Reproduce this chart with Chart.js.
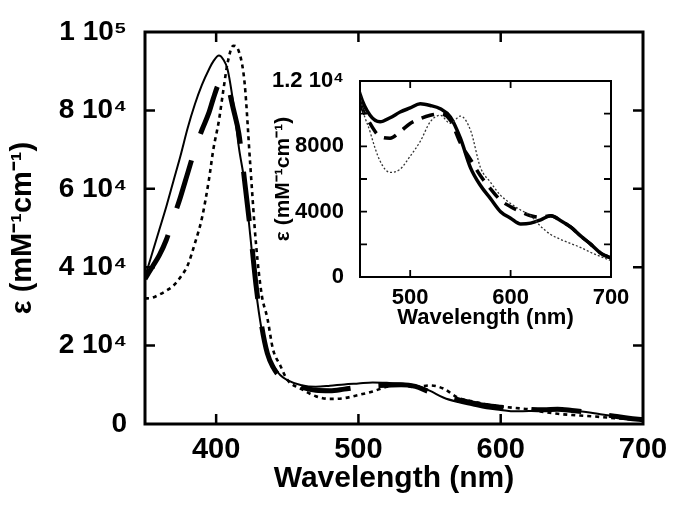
<!DOCTYPE html>
<html>
<head>
<meta charset="utf-8">
<script src="https://cdn.jsdelivr.net/npm/chart.js"></script>
<style>
  body { margin: 0; background: #fff; }
  #wrap { position: relative; width: 675px; height: 505px; }
  #mainChart { position: absolute; left: 0; top: 0; }
  #insetChart { position: absolute; left: 270px; top: 55px; }
</style>
</head>
<body>
<div id="wrap">
  <canvas id="mainChart" width="675" height="505"></canvas>
  <canvas id="insetChart" width="362" height="285"></canvas>
</div>
<script>
// data (nm, M^-1 cm^-1)
var wavelength = [350, 355, 360, 365, 370, 375, 380, 385, 390, 395, 398, 402, 405, 408, 412, 416, 420, 424, 428, 432, 436, 440, 445, 450,
    460, 470, 480, 490, 500, 510, 520, 530, 540, 550, 560, 570, 580, 590, 600, 610, 620, 630, 640, 650, 660, 670, 680, 690, 700];

var epsSolid = [37500, 43500, 49500, 55500, 62000, 68500, 75500, 81500, 86500, 90500, 92500, 94000, 93000, 90500, 82000, 70500, 61500, 48000, 34000, 24000, 17500, 15000, 12500, 11200,
    9900, 9500, 9750, 10100, 10350, 10600, 10500, 10300, 9800, 8500, 6700, 5600, 4800, 4000, 3600, 3250, 3300, 3500, 3750, 3450, 3050, 2500, 2000, 1450, 1150];

var epsDashed = [37000, 40000, 43000, 47000, 52500, 58000, 64000, 70000, 75000, 79500, 83000, 87000, 88000, 86500, 80500, 74000, 62000, 49500, 35500, 25000, 18000, 14500, 12000, 10700,
    9400, 8600, 8500, 8900, 9400, 9700, 9900, 10000, 9600, 8200, 7200, 6200, 5400, 4700, 4300, 4000, 3750, 3650, 3750, 3450, 3050, 2500, 2000, 1450, 1150];

var epsDotted = [32000, 32200, 33000, 34000, 35300, 37500, 40500, 46000, 52500, 62500, 70000, 77500, 85000, 92000, 96500, 95000, 87000, 66000, 46000, 33000, 27000, 19000, 15000, 11300,
    8900, 7100, 6400, 6600, 7400, 8300, 9500, 9900, 9400, 9850, 9000, 6700, 5800, 5000, 4500, 4100, 3750, 3100, 2600, 2300, 2050, 1800, 1500, 1250, 1000];

// tick labels
var mainXTicks = [400, 500, 600, 700];
var mainYTicks = [0, 20000, 40000, 60000, 80000, 100000];
var insetXTicks = [500, 600, 700];
var insetYTicks = [0, 4000, 8000, 12000];

function points(ys) {
    return wavelength.map(function (w, i) { return { x: w, y: ys[i] }; });
}

var FONT = "'Liberation Sans', Arial, sans-serif";

// frame on four sides with inward ticks
var frameTicks = {
    id: 'frameTicks',
    afterDatasetsDraw: function (chart, args, opts) {
        var ctx = chart.ctx, a = chart.chartArea;
        var x = chart.scales.x, y = chart.scales.y;
        ctx.save();
        ctx.strokeStyle = '#000';
        ctx.lineWidth = opts.tickWidth;
        ctx.beginPath();
        opts.xMarks.forEach(function (v) {
            var px = x.getPixelForValue(v);
            ctx.moveTo(px, a.bottom); ctx.lineTo(px, a.bottom - opts.len);
            ctx.moveTo(px, a.top); ctx.lineTo(px, a.top + opts.len);
        });
        opts.yMarks.forEach(function (v) {
            var py = y.getPixelForValue(v);
            ctx.moveTo(a.left, py); ctx.lineTo(a.left + opts.len, py);
            ctx.moveTo(a.right, py); ctx.lineTo(a.right - opts.len, py);
        });
        ctx.stroke();
        ctx.lineWidth = opts.frameWidth;
        ctx.strokeRect(a.left, a.top, a.right - a.left, a.bottom - a.top);
        ctx.restore();
    }
};

function mainLabelY(v) {
    if (v === 0) return '0';
    if (v === 100000) return '1 10\u2075';
    return (v / 10000) + ' 10\u2074';
}

function insetLabelY(v) {
    if (v === 12000) return '1.2 10\u2074';
    return String(v);
}

// Main chart
var mainChart = new Chart(document.getElementById('mainChart'), {
    type: 'line',
    data: {
        datasets: [{
            data: points(epsDotted),
            borderColor: '#000',
            borderWidth: 2.6,
            borderDash: [4, 4],
            pointRadius: 0,
            cubicInterpolationMode: 'monotone'
        }, {
            data: points(epsDashed),
            borderColor: '#000',
            borderWidth: 5,
            borderDash: [50, 28],
            pointRadius: 0,
            cubicInterpolationMode: 'monotone'
        }, {
            data: points(epsSolid),
            borderColor: '#000',
            borderWidth: 2,
            pointRadius: 0,
            cubicInterpolationMode: 'monotone'
        }]
    },
    options: {
        responsive: false,
        animation: false,
        layout: { padding: { top: 32, right: 32, left: 0, bottom: 0 } },
        plugins: {
            legend: { display: false },
            tooltip: { enabled: false },
            frameTicks: { xMarks: [400, 500, 600], yMarks: [20000, 40000, 60000, 80000], len: 10, tickWidth: 2.5, frameWidth: 3 }
        },
        scales: {
            x: {
                type: 'linear',
                min: 350,
                max: 700,
                afterBuildTicks: function (s) { s.ticks = mainXTicks.map(function (v) { return { value: v }; }); },
                afterFit: function (s) { s.height = 81; },
                grid: { display: false },
                border: { display: false },
                ticks: { color: '#000', padding: 1, maxRotation: 0, font: { family: FONT, size: 29, weight: 'bold' } },
                title: { display: true, text: 'Wavelength (nm)', color: '#000', padding: { top: 0, bottom: 8 }, font: { family: FONT, size: 30, weight: 'bold' } }
            },
            y: {
                type: 'linear',
                min: 0,
                max: 100000,
                afterBuildTicks: function (s) { s.ticks = mainYTicks.map(function (v) { return { value: v }; }); },
                afterFit: function (s) { s.width = 145; },
                grid: { display: false },
                border: { display: false },
                ticks: { color: '#000', padding: 10, callback: mainLabelY, font: { family: FONT, size: 28, weight: 'bold' } },
                title: { display: true, text: '\u03b5 (mM\u207b\u00b9cm\u207b\u00b9)', color: '#000', padding: { top: 6, bottom: 0 }, font: { family: FONT, size: 29, weight: 'bold' } }
            }
        }
    },
    plugins: [frameTicks]
});

// Inset (450-700 nm)
var insetChart = new Chart(document.getElementById('insetChart'), {
    type: 'line',
    data: {
        datasets: [{
            data: points(epsDotted),
            borderColor: '#333',
            borderWidth: 1.3,
            borderDash: [2, 2],
            pointRadius: 0,
            cubicInterpolationMode: 'monotone'
        }, {
            data: points(epsDashed),
            borderColor: '#000',
            borderWidth: 3.5,
            borderDash: [13, 9],
            pointRadius: 0,
            cubicInterpolationMode: 'monotone'
        }, {
            data: points(epsSolid),
            borderColor: '#000',
            borderWidth: 3.5,
            pointRadius: 0,
            cubicInterpolationMode: 'monotone'
        }]
    },
    options: {
        responsive: false,
        animation: false,
        layout: { padding: { top: 26, right: 21, left: 0, bottom: 0 } },
        plugins: {
            legend: { display: false },
            tooltip: { enabled: false },
            frameTicks: { xMarks: [500, 600], yMarks: [2000, 4000, 6000, 8000, 10000], len: 7, tickWidth: 1.8, frameWidth: 2 }
        },
        scales: {
            x: {
                type: 'linear',
                min: 450,
                max: 700,
                afterBuildTicks: function (s) { s.ticks = insetXTicks.map(function (v) { return { value: v }; }); },
                afterFit: function (s) { s.height = 63; },
                grid: { display: false },
                border: { display: false },
                ticks: { color: '#000', padding: 0, maxRotation: 0, font: { family: FONT, size: 22, weight: 'bold' } },
                title: { display: true, text: 'Wavelength (nm)', color: '#000', padding: { top: 0, bottom: 9 }, font: { family: FONT, size: 22, weight: 'bold' } }
            },
            y: {
                type: 'linear',
                min: 0,
                max: 12000,
                afterBuildTicks: function (s) { s.ticks = insetYTicks.map(function (v) { return { value: v }; }); },
                afterFit: function (s) { s.width = 90; },
                grid: { display: false },
                border: { display: false },
                ticks: { color: '#000', padding: 8, callback: insetLabelY, font: { family: FONT, size: 22, weight: 'bold' } },
                title: { display: true, text: '\u03b5 (mM\u207b\u00b9cm\u207b\u00b9)', color: '#000', padding: { top: 1, bottom: 0 }, font: { family: FONT, size: 21, weight: 'bold' } }
            }
        }
    },
    plugins: [frameTicks]
});
</script>
</body>
</html>
